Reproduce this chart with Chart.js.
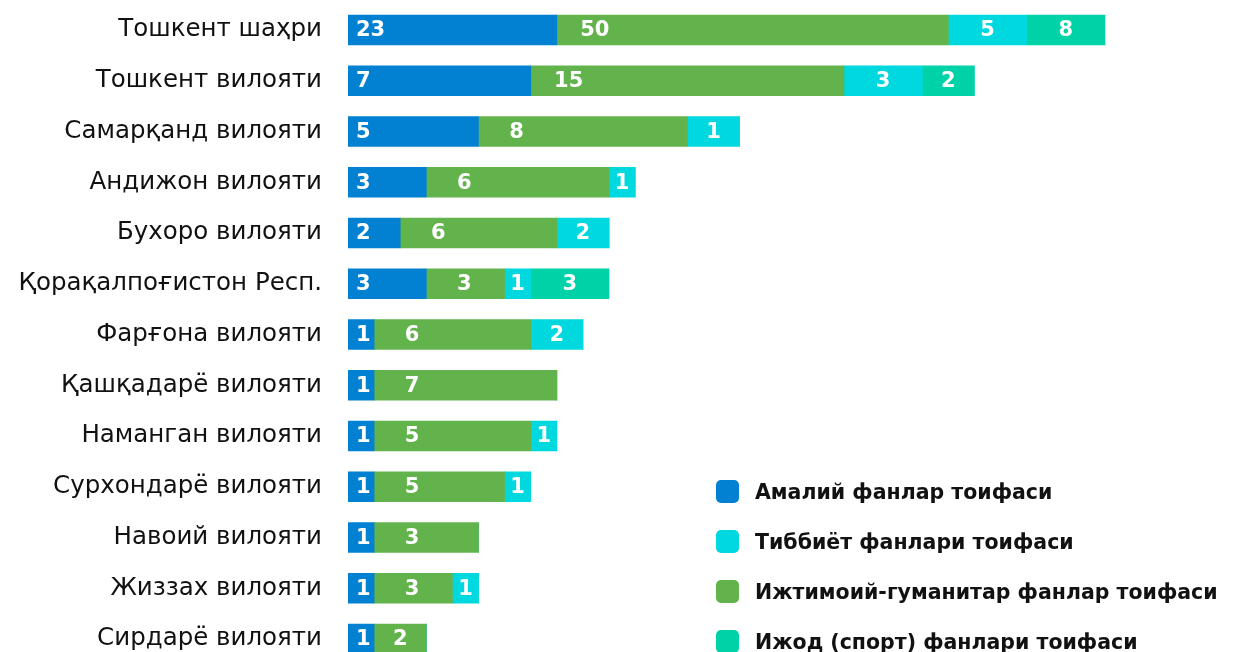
<!DOCTYPE html>
<html>
<head>
<meta charset="utf-8">
<script src="https://cdn.jsdelivr.net/npm/chart.js@4"></script>
<style>
  html, body { margin: 0; padding: 0; background: #fff; overflow: hidden; }
  #wrap { position: relative; width: 1239px; height: 652px; overflow: hidden; }
  #legend { position: absolute; left: 716px; top: 480px; font-family: "DejaVu Sans", sans-serif; font-weight: 700; font-size: 20.5px; color: #111; }
  .item { display: flex; align-items: center; height: 23px; margin-bottom: 27px; white-space: nowrap; }
  .box { width: 23px; height: 23px; border-radius: 5px; margin-right: 16px; flex: none; }
</style>
</head>
<body>
<div id="wrap">
  <canvas id="chart" width="1239" height="670"></canvas>
  <div id="legend"></div>
</div>
<script>
// regions, top to bottom
const regions = [
  'Тошкент шаҳри', 'Тошкент вилояти', 'Самарқанд вилояти', 'Андижон вилояти',
  'Бухоро вилояти', 'Қорақалпоғистон Респ.', 'Фарғона вилояти', 'Қашқадарё вилояти',
  'Наманган вилояти', 'Сурхондарё вилояти', 'Навоий вилояти', 'Жиззах вилояти',
  'Сирдарё вилояти'
];

// numbers printed on the segments
const amaliy   = [23, 7, 5, 3, 2, 3, 1, 1, 1, 1, 1, 1, 1];
const ijtimoiy = [50, 15, 8, 6, 6, 3, 6, 7, 5, 5, 3, 3, 2];
const tibbiyot = [5, 3, 1, 1, 2, 1, 2, 0, 1, 1, 0, 1, 0];
const ijod     = [8, 2, 0, 0, 0, 3, 0, 0, 0, 0, 0, 0, 0];

// segment lengths as drawn in the original (the infographic is not to scale)
const amaliyLen   = [8, 7, 5, 3, 2, 3, 1, 1, 1, 1, 1, 1, 1];
const ijtimoiyLen = [15, 12, 8, 7, 6, 3, 6, 7, 6, 5, 4, 3, 2];
const tibbiyotLen = [3, 3, 2, 1, 2, 1, 2, 0, 1, 1, 0, 1, 0];
const ijodLen     = [3, 2, 0, 0, 0, 3, 0, 0, 0, 0, 0, 0, 0];

const seriesNames = [
  'Амалий фанлар тоифаси',
  'Ижтимоий-гуманитар фанлар тоифаси',
  'Тиббиёт фанлари тоифаси',
  'Ижод (спорт) фанлари тоифаси'
];
const colors = ['#0280d2', '#62b34c', '#00d8e0', '#00d2a8'];
const legendOrder = [0, 2, 1, 3];

// draw the numbers inside the segments
const segmentLabels = {
  id: 'segmentLabels',
  afterDatasetsDraw(chart) {
    const ctx = chart.ctx;
    ctx.save();
    ctx.fillStyle = '#fff';
    ctx.font = '700 21px "DejaVu Sans", sans-serif';
    ctx.textBaseline = 'middle';
    chart.data.datasets.forEach((ds, i) => {
      chart.getDatasetMeta(i).data.forEach((bar, j) => {
        const v = ds.shown[j];
        if (!v) return;
        const left = Math.min(bar.base, bar.x);
        const w = Math.abs(bar.x - bar.base);
        let x;
        if (i === 0) {
          ctx.textAlign = 'left';
          x = left + 8;
        } else if (i === 1) {
          ctx.textAlign = 'center';
          x = left + Math.min(w / 2, 38);
        } else {
          ctx.textAlign = 'center';
          x = left + w / 2;
        }
        ctx.fillText(String(v), x, bar.y + 1);
      });
    });
    ctx.restore();
  }
};

const shown = [amaliy, ijtimoiy, tibbiyot, ijod];
const lens = [amaliyLen, ijtimoiyLen, tibbiyotLen, ijodLen];

new Chart(document.getElementById('chart'), {
  type: 'bar',
  data: {
    labels: regions,
    datasets: seriesNames.map((name, i) => ({
      label: name,
      data: lens[i],
      shown: shown[i],
      backgroundColor: colors[i],
      borderWidth: 0,
      barThickness: 30
    }))
  },
  options: {
    indexAxis: 'y',
    responsive: false,
    animation: false,
    layout: { padding: { top: 4.6, bottom: 5.6, right: 3.5, left: 0 } },
    plugins: { legend: { display: false }, tooltip: { enabled: false } },
    scales: {
      x: {
        stacked: true, min: 0, max: 34,
        display: false
      },
      y: {
        stacked: true,
        grid: { display: false, drawTicks: false },
        border: { display: false },
        ticks: {
          padding: 26,
          color: '#111',
          font: { family: '"DejaVu Sans", sans-serif', size: 24.5 }
        },
        afterFit(scale) {
          scale.width = 348;
          scale.paddingTop = 0;
          scale.paddingBottom = 0;
        }
      }
    }
  },
  plugins: [segmentLabels]
});

// legend
const legend = document.getElementById('legend');
legendOrder.forEach(i => {
  const row = document.createElement('div');
  row.className = 'item';
  const box = document.createElement('span');
  box.className = 'box';
  box.style.background = colors[i];
  row.appendChild(box);
  row.appendChild(document.createTextNode(seriesNames[i]));
  legend.appendChild(row);
});
</script>
</body>
</html>
